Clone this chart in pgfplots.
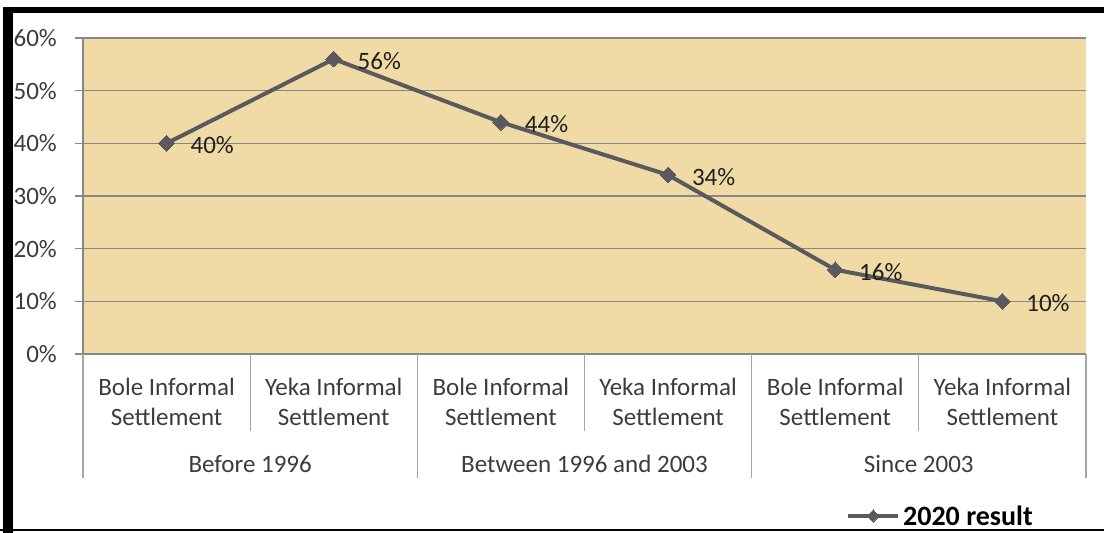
\documentclass[border=0pt]{standalone}
\usepackage{pgfplots}
\pgfplotsset{compat=1.18}
\usepackage{fontspec}
\setmainfont{Carlito}
\definecolor{papyrus}{RGB}{240,219,166}
\definecolor{linegray}{RGB}{90,90,94}
\definecolor{gridgray}{RGB}{135,135,135}
\definecolor{sepgray}{RGB}{165,165,165}
\definecolor{txtgray}{RGB}{60,60,60}
\newcommand\lbl{\fontsize{25bp}{30bp}\selectfont}
\begin{document}
\begin{tikzpicture}
\path[use as bounding box] (0,0) rectangle (1104bp,533bp);
\fill[black] (3bp,0bp) rectangle (13bp,526bp);
\fill[black] (3bp,520bp) rectangle (1104bp,526bp);
\fill[black] (0bp,2bp) rectangle (1104bp,4bp);
\begin{axis}[
  at={(83bp,179bp)}, anchor=south west,
  scale only axis, width=1003bp, height=316bp,
  xmin=-0.5, xmax=5.5, ymin=0, ymax=60,
  axis lines*=left,
  axis line style={gridgray, line width=1.2bp},
  axis background/.style={fill=papyrus},
  clip=false,
  ytick={0,10,...,60},
  yticklabel={\pgfmathprintnumber{\tick}\%},
  /pgf/number format/assume math mode=true,
  ymajorgrids, grid style={gridgray, line width=1.2bp},
  tick align=outside, major tick length=8bp,
  ytick style={gridgray, line width=1.2bp},
  yticklabel style={font=\lbl, text=txtgray, anchor=east, inner sep=0pt, xshift=-18bp},
  xtick={0,...,5},
  xtick style={draw=none},
  xticklabels={{Bole Informal\\Settlement},{Yeka Informal\\Settlement},{Bole Informal\\Settlement},{Yeka Informal\\Settlement},{Bole Informal\\Settlement},{Yeka Informal\\Settlement}},
  xticklabel style={align=center, anchor=north, font=\lbl, text=txtgray, inner sep=0pt, yshift=-16bp},
  legend style={at={(0.7607,-0.5127)}, anchor=west, draw=none, fill=none, inner sep=0pt,
    font=\bfseries\fontsize{28bp}{32bp}\selectfont, nodes={inner sep=3bp}},
  legend image code/.code={\draw[mark repeat=2, mark phase=2, #1, mark size=4.3bp] plot coordinates {(0bp,0bp) (25bp,0bp) (50bp,0bp)};},
]
\addplot[linegray, line width=4bp, mark=square*, mark size=5.6bp, mark options={rotate=45, fill=linegray, draw=linegray, line width=0pt},
  nodes near coords={\pgfmathprintnumber{\pgfplotspointmeta}\%},
  nodes near coords align={horizontal},
  every node near coord/.append style={anchor=west, font=\lbl, text=black!88, inner sep=0pt, xshift=24bp, yshift=-2bp}]
  coordinates {(0,40) (1,56) (2,44) (3,34) (4,16) (5,10)};
\addlegendentry{2020 result}
% category separators
\draw[sepgray, line width=1.2bp] (axis cs:-0.5,0) -- ([yshift=-124bp]axis cs:-0.5,0);
\draw[sepgray, line width=1.2bp] (axis cs:1.5,0) -- ([yshift=-124bp]axis cs:1.5,0);
\draw[sepgray, line width=1.2bp] (axis cs:3.5,0) -- ([yshift=-124bp]axis cs:3.5,0);
\draw[sepgray, line width=1.2bp] (axis cs:5.5,0) -- ([yshift=-124bp]axis cs:5.5,0);
\draw[sepgray, line width=1.2bp] (axis cs:0.5,0) -- ([yshift=-77bp]axis cs:0.5,0);
\draw[sepgray, line width=1.2bp] (axis cs:2.5,0) -- ([yshift=-77bp]axis cs:2.5,0);
\draw[sepgray, line width=1.2bp] (axis cs:4.5,0) -- ([yshift=-77bp]axis cs:4.5,0);
% group labels
\node[font=\lbl, text=txtgray] at ([yshift=-110bp]axis cs:0.5,0) {Before 1996};
\node[font=\lbl, text=txtgray] at ([yshift=-110bp]axis cs:2.5,0) {Between 1996 and 2003};
\node[font=\lbl, text=txtgray] at ([yshift=-110bp]axis cs:4.5,0) {Since 2003};
\end{axis}
\end{tikzpicture}
\end{document}
